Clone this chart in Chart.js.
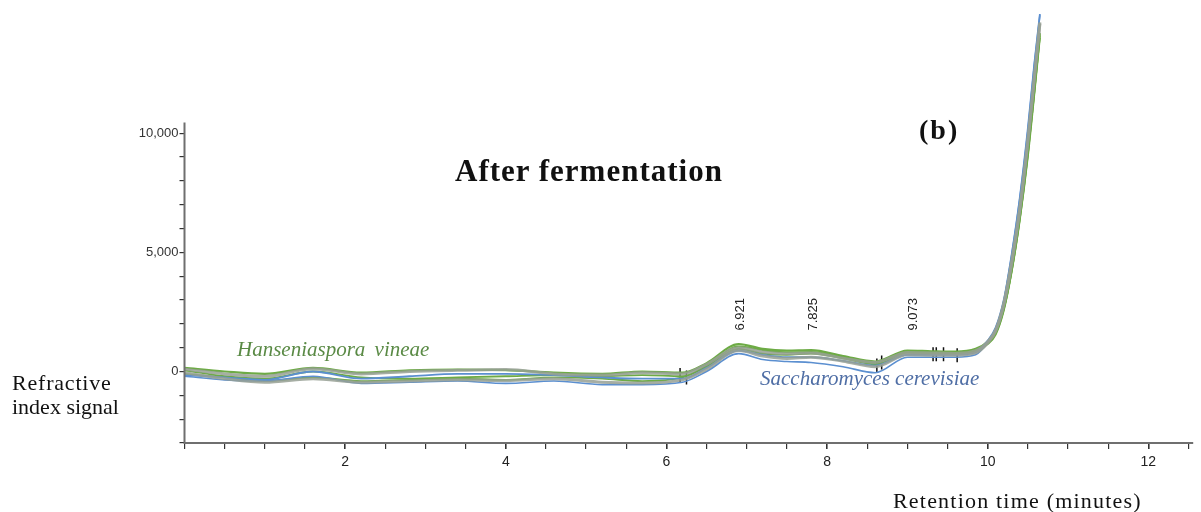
<!DOCTYPE html>
<html><head><meta charset="utf-8">
<script src="https://cdn.jsdelivr.net/npm/chart.js@4/dist/chart.umd.min.js"></script>
<style>
html,body{margin:0;padding:0;background:#fff;}
#wrap{position:relative;width:1201px;height:512px;overflow:hidden;background:#fff;}
#c{position:absolute;left:0;top:0;}
.t{position:absolute;white-space:nowrap;font-family:"Liberation Serif","Times New Roman",serif;color:#111;line-height:1;}
.pk{position:absolute;font-family:"Liberation Sans",Arial,sans-serif;font-size:13px;line-height:14px;width:14px;color:#222;writing-mode:vertical-rl;transform:rotate(180deg);white-space:nowrap;}
</style></head><body>
<div id="wrap">
<canvas id="c" width="1201" height="512"></canvas>
<div class="t" style="left:455px;top:155px;font-size:31px;font-weight:bold;letter-spacing:1px;">After fermentation</div>
<div class="t" style="left:919px;top:116px;font-size:28px;font-weight:bold;letter-spacing:2px;">(b)</div>
<div class="t" style="left:12px;top:372px;font-size:22px;letter-spacing:0.8px;">Refractive</div>
<div class="t" style="left:12px;top:396px;font-size:22px;">index signal</div>
<div class="t" style="left:893px;top:490px;font-size:22px;letter-spacing:1.2px;">Retention time (minutes)</div>
<div class="t" style="left:237px;top:339px;font-size:21px;font-style:italic;color:#5a8a45;word-spacing:4px;">Hanseniaspora vineae</div>
<div class="t" style="left:760px;top:368px;font-size:21px;font-style:italic;color:#4f6ea5;">Saccharomyces cerevisiae</div>
</div>
<script>
// Retention time (minutes)
const times = [0,0.5,1.0,1.6,2.2,2.8,3.4,4.0,4.6,5.2,5.7,6.2,6.5,6.9,7.2,7.5,7.8,8.2,8.6,9.0,9.3,9.6,9.85,10.0,10.1,10.2,10.3,10.4,10.5,10.58,10.65];
// Hanseniaspora vineae replicates (green)
const hvA = [150,0,-100,150,-50,50,80,60,-50,-100,0,-50,350,1150,950,880,900,650,420,880,850,830,950,1250,1650,2650,4300,6500,9200,11800,14200];
const hvB = [50,-200,-300,0,-250,-300,-250,-200,-150,-200,-150,-200,250,1050,900,800,820,600,350,820,800,780,900,1200,1600,2600,4250,6400,9100,11700,14100];
const hvC = [-100,-250,-400,-250,-400,-350,-300,-350,-250,-300,-400,-250,200,950,750,700,750,550,300,780,760,750,850,1150,1550,2550,4200,6350,9000,11600,14000];
// Grey replicates
const grA = [100,-100,-200,120,-100,0,50,80,-100,-150,-50,-100,300,1000,820,750,780,560,380,800,780,760,870,1250,1750,2850,4650,6850,9700,12300,14600];
const grB = [-50,-300,-450,-300,-450,-400,-350,-380,-300,-450,-480,-350,100,880,650,550,600,430,200,700,680,680,780,1200,1700,2800,4550,6800,9650,12300,14650];
// Saccharomyces cerevisiae replicates (blue)
const scA = [-150,-250,-350,0,-300,-200,-100,-100,-150,-250,-300,-300,150,880,700,600,600,450,250,700,700,700,800,1300,1850,3000,4950,7300,10200,12900,15000];
const scB = [-200,-350,-400,-200,-500,-450,-400,-500,-400,-550,-550,-450,0,750,500,420,380,200,-50,600,600,600,700,1250,1800,2950,4900,7250,10100,12850,14950];
// Integration markers
const markerTimes = [6.17,6.25,8.62,8.68,9.32,9.36,9.45,9.62];
const markerValues = [-150,-250,250,380,720,720,720,680];
// Peak labels
const peakTimes = [6.921,7.825,9.073];
const peakLabels = ['6.921','7.825','9.073'];
// Axis ticks
const yLabelled = [0,5000,10000];
const xLabelled = [2,4,6,8,10,12];

const pts = arr => times.map((t,i)=>({x:t,y:arr[i]}));
const GREEN='#6dab45', BLUE='#5b8fd0', GREY='rgba(150,160,148,0.85)';
function ds(arr,color,w){return {data:pts(arr),borderColor:color,borderWidth:w,pointRadius:0,cubicInterpolationMode:'monotone',fill:false};}

const yAxisLine = {
  id:'yAxisLine',
  afterDraw(chart){
    const c=chart.ctx, x=chart.scales.x, y=chart.scales.y;
    c.save(); c.strokeStyle='#6f6f6f'; c.lineWidth=2;
    c.beginPath();
    c.moveTo(x.getPixelForValue(0), y.getPixelForValue(-3000)+1);
    c.lineTo(x.getPixelForValue(0), y.getPixelForValue(10450));
    c.stroke(); c.restore();
  }
};

const chart = new Chart(document.getElementById('c'), {
  type:'line',
  data:{datasets:[
    ds(grA,GREY,3), ds(grB,GREY,3),
    ds(scB,BLUE,1.6), ds(scA,BLUE,1.8),
    ds(hvC,GREEN,1.8), ds(hvB,GREEN,1.8), ds(hvA,GREEN,2.2),
    {type:'scatter',data:markerTimes.map((t,i)=>({x:t,y:markerValues[i]})),pointStyle:'line',rotation:90,radius:7,borderColor:'#111',borderWidth:1.5,backgroundColor:'#111'}
  ]},
  options:{
    responsive:false, animation:false, devicePixelRatio:1,
    layout:{padding:{left:0,right:2,top:14,bottom:0}},
    plugins:{legend:{display:false},tooltip:{enabled:false},title:{display:false}},
    scales:{
      x:{type:'linear',min:0,max:12.55,
        afterFit(s){s.height=69;},
        afterBuildTicks(s){const a=[];for(let i=0;i<=25;i++)a.push({value:i*0.5});s.ticks=a;},
        ticks:{autoSkip:false,maxRotation:0,padding:5,color:'#222',font:{family:'"Liberation Sans", Arial, sans-serif',size:14},
          callback:(v)=>xLabelled.includes(v)?String(v):''},
        grid:{drawOnChartArea:false,tickLength:6,color:'#333',lineWidth:c=>(c.tick&&xLabelled.includes(c.tick.value))?1.6:1.2},
        border:{display:true,color:'#6f6f6f',width:2}
      },
      y:{type:'linear',min:-3000,max:15000,
        afterFit(s){s.width=184.5;},
        afterBuildTicks(s){const a=[];for(let v=-3000;v<=10000;v+=1000)a.push({value:v});s.ticks=a;},
        ticks:{autoSkip:false,padding:1,color:'#333',font:{family:'"Liberation Sans", Arial, sans-serif',size:13},
          callback:(v)=>yLabelled.includes(v)?v.toLocaleString('en-US'):''},
        grid:{drawOnChartArea:false,tickLength:5,color:'#333',lineWidth:1.2},
        border:{display:false}
      }
    }
  },
  plugins:[yAxisLine]
});

const wrap=document.getElementById('wrap');
peakTimes.forEach((t,i)=>{
  const d=document.createElement('div');
  d.className='pk'; d.textContent=peakLabels[i];
  d.style.left=(chart.scales.x.getPixelForValue(t)-7)+'px';
  d.style.bottom=(512-331)+'px';
  wrap.appendChild(d);
});
</script>
</body></html>
